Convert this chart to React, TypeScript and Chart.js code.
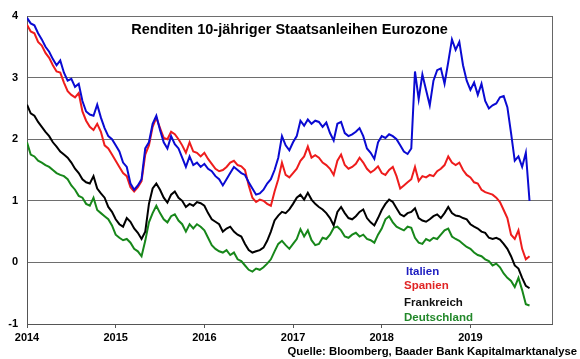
import React, { useEffect, useRef } from "react";
import { Chart, registerables } from "chart.js";

Chart.register(...registerables);

// Half-monthly observations starting January 2014
const START_YEAR = 2014;
const STEP = 1 / 24;
const YEAR_TICKS = [2014, 2015, 2016, 2017, 2018, 2019];
const Y_TICKS = [-1, 0, 1, 2, 3, 4];

const italien = [
  3.97, 3.88, 3.85, 3.72, 3.62, 3.5, 3.42, 3.3, 3.2, 3.28, 3.08, 2.95,
  2.98, 2.85, 2.9, 2.62, 2.45, 2.4, 2.38, 2.56, 2.35, 2.18, 2.05, 2.0,
  1.9, 1.8, 1.62, 1.55, 1.28, 1.18, 1.25, 1.35, 1.85, 1.95, 2.25, 2.38,
  2.15, 1.95, 1.85, 2.05, 1.92, 1.85, 1.7, 1.55, 1.72, 1.58, 1.62, 1.55,
  1.6, 1.52, 1.48, 1.4, 1.35, 1.25, 1.35, 1.45, 1.55, 1.5, 1.45, 1.42,
  1.3, 1.2, 1.1, 1.12, 1.18, 1.28, 1.35, 1.5, 1.7, 2.05, 1.9, 1.82,
  1.95, 2.05, 2.3, 2.22, 2.32, 2.25, 2.3, 2.28, 2.2, 2.27, 2.1, 1.98,
  2.25, 2.28, 2.1, 2.05, 2.08, 2.12, 2.18, 2.05, 1.85, 1.78, 1.68, 1.95,
  2.05, 2.02, 2.08, 2.05, 2.0, 1.9, 1.8, 1.76, 1.85, 3.1, 2.65, 3.05,
  2.8, 2.55, 2.95, 3.12, 3.15, 2.9, 3.25, 3.62, 3.45, 3.58, 3.2, 2.95,
  2.8, 2.92, 2.72, 2.9, 2.62, 2.5, 2.55, 2.58, 2.68, 2.7, 2.52, 2.1,
  1.65, 1.72, 1.55, 1.78, 1.0,
];

const spanien = [
  3.86, 3.75, 3.72, 3.58, 3.52, 3.4, 3.32, 3.2, 3.1, 3.08, 2.92, 2.78,
  2.72, 2.68, 2.75, 2.45, 2.3, 2.2, 2.15, 2.25, 2.12, 1.9, 1.85, 1.75,
  1.65, 1.55, 1.45, 1.4, 1.22, 1.15, 1.22, 1.32, 1.75, 1.9, 2.2, 2.35,
  2.18, 2.02, 2.0, 2.12, 2.08, 2.0, 1.9, 1.78, 1.95, 1.8, 1.78, 1.72,
  1.78, 1.68, 1.6, 1.52, 1.48, 1.5, 1.55, 1.62, 1.65, 1.58, 1.56, 1.5,
  1.25, 1.05, 0.98, 1.02, 1.0, 0.95, 0.92, 1.15, 1.35, 1.62, 1.42, 1.38,
  1.45, 1.52, 1.65, 1.72, 1.88, 1.7, 1.74, 1.7, 1.62, 1.58, 1.52, 1.42,
  1.65, 1.75, 1.58, 1.52, 1.55, 1.6, 1.7, 1.62, 1.52, 1.46, 1.5, 1.56,
  1.45, 1.42, 1.5, 1.55, 1.4, 1.2, 1.25, 1.3, 1.35, 1.55, 1.32, 1.4,
  1.38, 1.42, 1.4, 1.48, 1.52, 1.58, 1.72, 1.62, 1.58, 1.62, 1.5, 1.42,
  1.38, 1.3, 1.28, 1.18, 1.14, 1.12, 1.1, 1.05, 0.98, 0.85, 0.72, 0.45,
  0.38, 0.52, 0.22, 0.05, 0.1,
];

const frankreich = [
  2.56, 2.42, 2.38, 2.28, 2.2, 2.12, 2.05, 1.95, 1.88, 1.8, 1.75, 1.7,
  1.62, 1.52, 1.45, 1.35, 1.3, 1.28, 1.4, 1.2, 1.12, 1.05, 0.9, 0.82,
  0.7, 0.62, 0.58, 0.72, 0.66, 0.55, 0.48, 0.38, 0.5, 0.95, 1.2, 1.28,
  1.18, 1.05, 0.97, 1.1, 1.15, 1.05, 1.0, 0.9, 0.95, 0.92, 0.98, 0.96,
  0.92, 0.8, 0.7, 0.66, 0.62, 0.5, 0.55, 0.58, 0.5, 0.45, 0.42, 0.3,
  0.2, 0.16, 0.18, 0.2, 0.24, 0.35, 0.5, 0.68, 0.76, 0.82, 0.8, 0.86,
  0.95, 1.05, 1.1, 1.02, 1.13, 1.02, 0.95, 0.9, 0.86, 0.8, 0.72, 0.6,
  0.82, 0.9, 0.8, 0.72, 0.7, 0.75, 0.82, 0.86, 0.72, 0.65, 0.6, 0.72,
  0.85, 0.95, 1.02, 0.98, 0.88, 0.78, 0.75, 0.8, 0.82, 0.88, 0.72, 0.68,
  0.66, 0.7, 0.75, 0.78, 0.72, 0.8, 0.9, 0.8, 0.76, 0.75, 0.72, 0.7,
  0.62, 0.58, 0.55, 0.5, 0.48, 0.4, 0.38, 0.4, 0.37, 0.3, 0.22, 0.1,
  -0.05, -0.1, -0.25, -0.38, -0.42,
];

const deutschland = [
  1.95, 1.75, 1.72, 1.65, 1.62, 1.58, 1.55, 1.5, 1.45, 1.42, 1.4, 1.35,
  1.25, 1.18, 1.08, 1.05, 0.95, 0.92, 1.05, 0.85, 0.8, 0.75, 0.7, 0.6,
  0.45, 0.4, 0.36, 0.38, 0.32, 0.22, 0.18, 0.1, 0.35, 0.65, 0.8, 0.92,
  0.8, 0.7, 0.65, 0.75, 0.78, 0.68, 0.62, 0.5, 0.62, 0.55, 0.62, 0.58,
  0.52, 0.4, 0.28, 0.22, 0.18, 0.16, 0.2, 0.12, 0.16, 0.05, 0.02, -0.05,
  -0.12, -0.15, -0.1, -0.12, -0.08, -0.02, 0.05, 0.18, 0.3, 0.35, 0.28, 0.22,
  0.3, 0.38, 0.54, 0.42, 0.52, 0.36, 0.28, 0.3, 0.4, 0.38, 0.45, 0.56,
  0.58, 0.52, 0.42, 0.4, 0.45, 0.48, 0.42, 0.45, 0.38, 0.36, 0.32, 0.45,
  0.55, 0.7, 0.75, 0.65, 0.58, 0.55, 0.52, 0.58, 0.56, 0.4, 0.32, 0.3,
  0.38, 0.35, 0.4, 0.38, 0.45, 0.52, 0.55, 0.42, 0.38, 0.35, 0.3, 0.25,
  0.22, 0.16, 0.12, 0.1, 0.05, 0.02, -0.05, -0.02, -0.08, -0.18, -0.25, -0.3,
  -0.4, -0.25, -0.45, -0.68, -0.7,
];

const TITLE = "Renditen 10-jähriger Staatsanleihen Eurozone";
const SOURCE = "Quelle: Bloomberg, Baader Bank Kapitalmarktanalyse";

const SERIES = [
  { name: "Italien", data: italien, line: "#0a0ad2", text: "#1c1cc0" },
  { name: "Spanien", data: spanien, line: "#ee1c1c", text: "#e02424" },
  { name: "Frankreich", data: frankreich, line: "#000000", text: "#111111" },
  { name: "Deutschland", data: deutschland, line: "#17871a", text: "#22882a" },
];

const FONT = 'Arial, "Liberation Sans", sans-serif';

const framePlugin = {
  id: "frame",
  beforeDatasetsDraw(chart: any) {
    const { ctx, chartArea } = chart;
    ctx.save();
    ctx.strokeStyle = "#666666";
    ctx.lineWidth = 1;
    ctx.beginPath();
    ctx.moveTo(Math.round(chartArea.right) + 0.5, chartArea.top);
    ctx.lineTo(Math.round(chartArea.right) + 0.5, chartArea.bottom);
    ctx.stroke();
    ctx.restore();
  },
};

export default function App() {
  const ref = useRef<HTMLCanvasElement>(null);

  useEffect(() => {
    if (!ref.current) return;
    const chart = new Chart(ref.current, {
      type: "line",
      data: {
        datasets: SERIES.map((s) => ({
          label: s.name,
          data: s.data.map((v, i) => ({ x: START_YEAR + i * STEP, y: v })),
          borderColor: s.line,
          backgroundColor: s.line,
          borderWidth: 2,
          pointRadius: 0,
          tension: 0,
          fill: false,
        })),
      },
      options: {
        responsive: false,
        animation: false,
        devicePixelRatio: 1,
        layout: { padding: { left: 0, right: 28, top: 16, bottom: 0 } },
        plugins: {
          legend: { display: false },
          title: { display: false },
          tooltip: { enabled: false },
        },
        scales: {
          x: {
            type: "linear",
            min: 2014,
            max: 2019.92,
            afterBuildTicks: (scale: any) => {
              scale.ticks = YEAR_TICKS.map((v) => ({ value: v }));
            },
            afterFit: (scale: any) => {
              scale.height = 35;
            },
            ticks: {
              callback: (v: any) => String(v),
              color: "#000",
              font: { family: FONT, size: 11, weight: "bold" },
              padding: 3,
              maxRotation: 0,
            },
            grid: {
              drawOnChartArea: false,
              drawTicks: true,
              tickLength: 4,
              color: "#555",
            },
            border: { display: true, color: "#555", width: 1 },
          },
          y: {
            min: -1,
            max: 4,
            afterBuildTicks: (scale: any) => {
              scale.ticks = Y_TICKS.map((v) => ({ value: v }));
            },
            afterFit: (scale: any) => {
              scale.width = 27;
            },
            ticks: {
              callback: (v: any) => String(v),
              color: "#000",
              font: { family: FONT, size: 11, weight: "bold" },
              padding: 9,
            },
            grid: {
              drawTicks: false,
              color: "#6e6e6e",
              lineWidth: 1,
            },
            border: { display: true, color: "#555", width: 1 },
          },
        },
      },
      plugins: [framePlugin],
    } as any);
    return () => chart.destroy();
  }, []);

  const textBase: React.CSSProperties = {
    position: "absolute",
    fontFamily: FONT,
    fontWeight: "bold",
    whiteSpace: "nowrap",
    margin: 0,
  };

  const legendPos = [
    { left: 406, top: 264 },
    { left: 404, top: 278 },
    { left: 404, top: 294.5 },
    { left: 404, top: 309.5 },
  ];

  return (
    <div
      style={{
        position: "fixed",
        left: 0,
        top: 0,
        width: 580,
        height: 359,
        background: "#fff",
      }}
    >
      <canvas ref={ref} width={580} height={359} style={{ display: "block" }} />
      <div
        style={{
          ...textBase,
          left: 27,
          width: 525,
          top: 21,
          textAlign: "center",
          fontSize: "14.5px",
          lineHeight: "16px",
          color: "#000",
        }}
      >
        {TITLE}
      </div>
      {SERIES.map((s, i) => (
        <div
          key={s.name}
          style={{
            ...textBase,
            left: legendPos[i].left,
            top: legendPos[i].top,
            fontSize: "11.5px",
            lineHeight: "14px",
            color: s.text,
          }}
        >
          {s.name}
        </div>
      ))}
      <div
        style={{
          ...textBase,
          right: 3,
          top: 344,
          fontSize: "11.3px",
          lineHeight: "14px",
          color: "#000",
        }}
      >
        {SOURCE}
      </div>
    </div>
  );
}
